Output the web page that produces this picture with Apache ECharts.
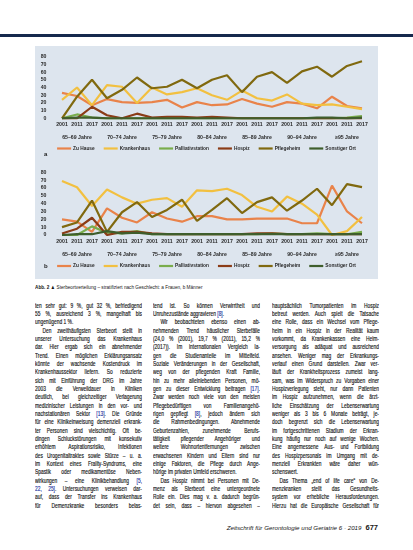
<!DOCTYPE html>
<html lang="de">
<head>
<meta charset="utf-8">
<script src="https://cdn.jsdelivr.net/npm/echarts@6/dist/echarts.min.js"></script>
<style>
  body { margin: 0; width: 413px; height: 550px; background: #fff; position: relative; overflow: hidden;
         font-family: "Liberation Sans", Arial, sans-serif; color: #151515; }
  .topbar { position: absolute; left: 0; top: 34px; width: 413px; height: 3px; background: #16294d; }
  #chart { position: absolute; left: 35px; top: 46px; width: 343px; height: 233px; background: #dde5ee; }
  .caption { position: absolute; left: 35px; top: 283px; width: 240px; font-size: 6px; line-height: 8px;
             transform: scaleX(0.78); transform-origin: 0 0; white-space: nowrap; }
  .caption b { font-weight: bold; }
  .col { position: absolute; top: 301.5px; width: 144.6px; transform: scaleX(0.74); transform-origin: 0 0;
         font-size: 6.6px; line-height: 8.35px; -webkit-text-stroke: 0.15px #151515; }
  .col div { height: 8.35px; overflow: hidden; text-align: justify; text-align-last: justify; }
  .col div.e { text-align-last: left; }
  .col div.i { text-indent: 10px; }
  .c { color: #2233a0; -webkit-text-stroke: 0.15px #2233a0; }
  .footer { position: absolute; right: 35px; top: 523px; font-size: 6.2px; line-height: 9px; white-space: nowrap; }
  .footer i { font-style: italic; }
  .footer b { font-size: 7.5px; margin-left: 4px; }
</style>
</head>
<body>
<div class="topbar"></div>
<div id="chart"></div>
<div class="caption"><b>Abb. 2 ▲</b> Sterbeortverteilung – stratifiziert nach Geschlecht: a Frauen, b Männer</div>
<div class="col" id="col1" style="left:35px"></div>
<div class="col" id="col2" style="left:153px"></div>
<div class="col" id="col3" style="left:272px"></div>
<div class="footer"><i>Zeitschrift für Gerontologie und Geriatrie 6 · 2019</i><b>677</b></div>

<script>
// Achsen
const years = ['2001', '2011', '2017'];
const ageGroups = ['65–69 Jahre', '70–74 Jahre', '75–79 Jahre', '80–84 Jahre', '85–89 Jahre', '90–94 Jahre', '≥95 Jahre'];
const yTicks = [0, 10, 20, 30, 40, 50, 60, 70, 80];
const seriesNames = ['Zu Hause', 'Krankenhaus', 'Palliativstation', 'Hospiz', 'Pflegeheim', 'Sonstiger Ort'];

// a: Frauen (in %)
const frauenZuHause      = [33, 29, 17, 25, 21, 20, 21, 24, 14, 21, 17, 18, 25, 19, 15, 21, 19, 13, 28, 16, 13];
const frauenKrankenhaus  = [24, 40, 17, 43, 41, 20, 40, 31, 34, 39, 30, 24, 36, 26, 23, 31, 19, 17, 18, 15, 12];
const frauenPalliativ    = [0, 5, 1, 0, 0, 0, 0, 0, 0, 0, 0, 0, 0, 0, 0, 0, 0, 0, 0, 1, 3];
const frauenHospiz       = [0, 0, 15, 4, 0, 6, 1, 2, 2, 1, 2, 1, 0, 0, 0, 0, 0, 0, 0, 0, 0];
const frauenPflegeheim   = [0, 28, 50, 26, 37, 53, 39, 41, 50, 39, 50, 56, 34, 54, 60, 46, 61, 67, 54, 68, 74];
const frauenSonstiger    = [0, 1, 1, 0, 0, 0, 0, 0, 0, 0, 0, 0, 0, 0, 0, 0, 0, 1, 1, 0, 1];

// b: Männer (in %)
const maennerZuHause     = [20, 17, 4, 34, 22, 16, 29, 21, 17, 24, 24, 20, 20, 21, 21, 21, 15, 15, 63, 30, 15];
const maennerKrankenhaus = [69, 61, 37, 58, 48, 40, 45, 47, 36, 57, 56, 59, 51, 36, 30, 49, 40, 26, 0, 5, 23];
const maennerPalliativ   = [0, 0, 11, 3, 2, 5, 1, 1, 1, 1, 1, 1, 1, 1, 2, 1, 1, 2, 1, 1, 4];
const maennerHospiz      = [2, 8, 22, 0, 4, 4, 2, 1, 1, 1, 1, 1, 1, 2, 2, 1, 1, 1, 1, 1, 1];
const maennerPflegeheim  = [10, 16, 44, 4, 29, 42, 23, 32, 45, 18, 32, 47, 28, 42, 48, 31, 44, 59, 38, 65, 61];
const maennerSonstiger   = [0, 1, 1, 5, 2, 3, 1, 1, 1, 1, 1, 1, 1, 1, 1, 1, 1, 1, 1, 1, 1];

const colors = ['#e9834a', '#f2c040', '#7aad4c', '#8b3c17', '#80690f', '#3f5e2c'];

// Fließtext (Zeilen wie im Satz; i = Einzug, e = Absatzende)
const col1 = [
  ['ten sehr gut: 9 %, gut 32 %, befriedigend', ''],
  ['55 %, ausreichend 3 %, mangelhaft bis', ''],
  ['ungenügend 1 %.', 'e'],
  ['Den zweithäufigsten Sterbeort stellt in', 'i'],
  ['unserer Untersuchung das Krankenhaus', ''],
  ['dar. Hier ergab sich ein abnehmender', ''],
  ['Trend. Einen möglichen Erklärungsansatz', ''],
  ['könnte der wachsende Kostendruck im', ''],
  ['Krankenhaussektor liefern. So reduzierte', ''],
  ['sich mit Einführung der DRG im Jahre', ''],
  ['2003 die Verweildauer in Kliniken', ''],
  ['deutlich, bei gleichzeitiger Verlagerung', ''],
  ['medizinischer Leistungen in den vor- und', ''],
  ['nachstationären Sektor <span class="c">[13]</span>. Die Gründe', ''],
  ['für eine Klinikeinweisung demenziell erkrank-', ''],
  ['ter Personen sind vielschichtig. Oft be-', ''],
  ['dingen Schluckstörungen mit konsekutiv', ''],
  ['erhöhtem Aspirationsrisiko, Infektionen', ''],
  ['des Urogenitaltraktes sowie Stürze – u. a.', ''],
  ['im Kontext eines Frailty-Syndroms, eine', ''],
  ['Spastik oder medikamentöse Neben-', ''],
  ['wirkungen – eine Klinikbehandlung <span class="c">[5,</span>', ''],
  ['<span class="c">22, 25]</span>. Untersuchungen verweisen dar-', ''],
  ['auf, dass der Transfer ins Krankenhaus', ''],
  ['für Demenzkranke besonders belas-', '']
];
const col2 = [
  ['tend ist. So können Verwirrtheit und', ''],
  ['Unruhezustände aggravieren <span class="c">[8]</span>.', 'e'],
  ['Wir beobachteten ebenso einen ab-', 'i'],
  ['nehmenden Trend häuslicher Sterbefälle', ''],
  ['(24,0 % (2001), 19,7 % (2011), 15,2 %', ''],
  ['(2017)). Im internationalen Vergleich la-', ''],
  ['gen die Studienanteile im Mittelfeld.', ''],
  ['Soziale Veränderungen in der Gesellschaft,', ''],
  ['weg von der pflegenden Kraft Familie,', ''],
  ['hin zu mehr alleinlebenden Personen, mö-', ''],
  ['gen zu dieser Entwicklung beitragen <span class="c">[17]</span>.', ''],
  ['Zwar werden noch viele von den meisten', ''],
  ['Pflegebedürftigen von Familienangehö-', ''],
  ['rigen gepflegt <span class="c">[8]</span>, jedoch ändern sich', ''],
  ['die Rahmenbedingungen. Abnehmende', ''],
  ['Geburtenzahlen, zunehmende Berufs-', ''],
  ['tätigkeit pflegender Angehöriger und', ''],
  ['weitere Wohnortentfernungen zwischen', ''],
  ['erwachsenen Kindern und Eltern sind nur', ''],
  ['einige Faktoren, die Pflege durch Ange-', ''],
  ['hörige im privaten Umfeld erschweren.', 'e'],
  ['Das Hospiz nimmt bei Personen mit De-', 'i'],
  ['menz als Sterbeort eine untergeordnete', ''],
  ['Rolle ein. Dies mag v. a. dadurch begrün-', ''],
  ['det sein, dass – hiervon abgesehen –', '']
];
const col3 = [
  ['hauptsächlich Tumorpatienten im Hospiz', ''],
  ['betreut werden. Auch spielt die Tatsache', ''],
  ['eine Rolle, dass ein Wechsel vom Pflege-', ''],
  ['heim in ein Hospiz in der Realität kaum', ''],
  ['vorkommt, da Krankenkassen eine Heim-', ''],
  ['versorgung als adäquat und ausreichend', ''],
  ['ansehen. Weniger mag der Erkrankungs-', ''],
  ['verlauf einen Grund darstellen. Zwar ver-', ''],
  ['läuft der Krankheitsprozess zumeist lang-', ''],
  ['sam, was im Widerspruch zu Vorgaben einer', ''],
  ['Hospizverlegung steht, nur dann Patienten', ''],
  ['im Hospiz aufzunehmen, wenn die ärzt-', ''],
  ['liche Einschätzung der Lebenserwartung', ''],
  ['weniger als 3 bis 6 Monate beträgt, je-', ''],
  ['doch begrenzt sich die Lebenserwartung', ''],
  ['im fortgeschrittenen Stadium der Erkran-', ''],
  ['kung häufig nur noch auf wenige Wochen.', ''],
  ['Eine angemessene Aus- und Fortbildung', ''],
  ['des Hospizpersonals im Umgang mit de-', ''],
  ['menziell Erkrankten wäre daher wün-', ''],
  ['schenswert.', 'e'],
  ['Das Thema „end of life care“ von De-', 'i'],
  ['menzkranken stellt das Gesundheits-', ''],
  ['system vor erhebliche Herausforderungen.', ''],
  ['Hierzu hat die Europäische Gesellschaft für', '']
];

function fillCol(id, lines) {
  document.getElementById(id).innerHTML =
    lines.map(l => '<div class="' + l[1] + '">' + l[0] + '</div>').join('');
}
fillCol('col1', col1);
fillCol('col2', col2);
fillCol('col3', col3);

const categories = ageGroups.flatMap(() => years);
const labelFont = { fontFamily: 'Liberation Sans', fontSize: 5.2, fontWeight: 'bold', color: '#2a2a2a' };

function yearAxis(gridIndex) {
  return {
    type: 'category', gridIndex, data: categories, boundaryGap: true,
    axisLine: { show: false }, axisTick: { show: false },
    axisLabel: Object.assign({ interval: 0, margin: 4 }, labelFont)
  };
}
function groupAxis(gridIndex) {
  return {
    type: 'category', gridIndex, data: ageGroups, boundaryGap: true, position: 'bottom', offset: 13,
    axisLine: { show: false }, axisTick: { show: false },
    axisLabel: Object.assign({ interval: 0, margin: 4 }, labelFont)
  };
}
function valueAxis(gridIndex) {
  return {
    type: 'value', gridIndex, min: yTicks[0], max: yTicks[yTicks.length - 1], interval: 10,
    splitLine: { show: false }, axisLine: { show: false }, axisTick: { show: false },
    axisLabel: Object.assign({ margin: 8 }, labelFont)
  };
}
function lines(data, xIdx, yIdx) {
  return data.map((d, i) => ({
    name: seriesNames[i], type: 'line', data: d, xAxisIndex: xIdx, yAxisIndex: yIdx,
    symbol: 'none', lineStyle: { width: 2.2, color: colors[i] }, itemStyle: { color: colors[i] },
    animation: false
  }));
}
function legend(top) {
  return {
    top, left: 'center', width: 330, data: seriesNames, icon: 'rect', itemWidth: 14, itemHeight: 2.2, itemGap: 9,
    padding: 0,
    textStyle: { fontFamily: 'Liberation Sans', fontSize: 4.8, fontWeight: 'bold', color: '#2a2a2a', padding: [0, 0, 0, -3] },
    selectedMode: false
  };
}

const myChart = echarts.init(document.getElementById('chart'));
const option = {
  color: colors,
  grid: [
    { left: 19.5, right: 8.5, top: 10.7, height: 61.6 },
    { left: 19.5, right: 8.5, top: 126.3, height: 62.7 }
  ],
  xAxis: [yearAxis(0), groupAxis(0), yearAxis(1), groupAxis(1)],
  yAxis: [valueAxis(0), valueAxis(1)],
  legend: [legend(100), legend(217.5)],
  graphic: [
    { type: 'text', left: 9, top: 105, style: { text: 'a', font: 'bold 6px "Liberation Sans"', fill: '#222' } },
    { type: 'text', left: 9, top: 217, style: { text: 'b', font: 'bold 6px "Liberation Sans"', fill: '#222' } }
  ],
  series: [
    ...lines([frauenZuHause, frauenKrankenhaus, frauenPalliativ, frauenHospiz, frauenPflegeheim, frauenSonstiger], 0, 0),
    ...lines([maennerZuHause, maennerKrankenhaus, maennerPalliativ, maennerHospiz, maennerPflegeheim, maennerSonstiger], 2, 1)
  ]
};
option && myChart.setOption(option);
</script>
</body>
</html>
